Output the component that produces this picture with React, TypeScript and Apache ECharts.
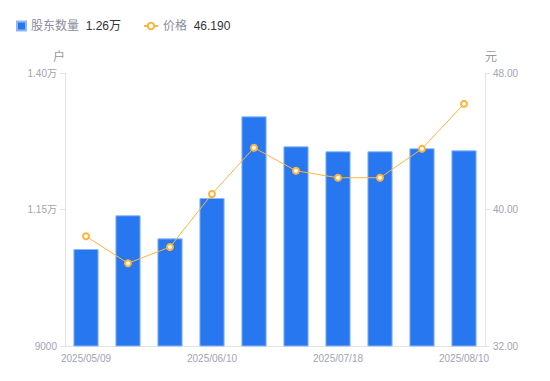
import React, { useEffect, useRef } from "react";
import * as echarts from "echarts";

const categories = [
  "2025/05/09", "2025/05/20", "2025/05/30", "2025/06/10", "2025/06/20",
  "2025/06/30", "2025/07/18", "2025/07/25", "2025/07/31", "2025/08/10",
];
const holders = [10777, 11394, 10972, 11711, 13207, 12657, 12566, 12566, 12621, 12584];
const prices = [38.43, 36.85, 37.8, 40.91, 43.62, 42.27, 41.86, 41.86, 43.56, 46.19];
const leftTicks = { min: 9000, max: 14000, interval: 2500 };
const rightTicks = { min: 32, max: 48, interval: 8 };

const FONT = '"Liberation Sans", "Noto Sans CJK SC", sans-serif';
const GRAY = "#a3a3b3";
const AXIS = "#e3e3e8";

export default function App() {
  const ref = useRef<HTMLDivElement>(null);
  useEffect(() => {
    if (!ref.current) return;
    const chart = echarts.init(ref.current, undefined, { renderer: "svg" });
    const lastHolder = (holders[holders.length - 1] / 10000).toFixed(2) + "万";
    const lastPrice = prices[prices.length - 1].toFixed(3);
    const legendText = {
      fontFamily: FONT,
      rich: {
        n: { color: "#8c8c9c", fontSize: 12, fontFamily: FONT },
        v: { color: "#333", fontSize: 12, fontFamily: FONT },
      },
    };
    chart.setOption({
      animation: false,
      textStyle: { fontFamily: FONT },
      legend: [
        {
          left: 16,
          top: 20,
          padding: 0,
          itemWidth: 9,
          itemHeight: 9,
          data: [{ name: "股东数量", icon: "rect" }],
          formatter: (name: string) => `{n|${name}}  {v|${lastHolder}}`,
          textStyle: legendText,
        },
        {
          left: 143,
          top: 20,
          padding: 0,
          itemWidth: 14,
          itemHeight: 8,
          data: [{ name: "价格" }],
          formatter: (name: string) => `{n|${name}}  {v|${lastPrice}}`,
          textStyle: legendText,
        },
      ],
      grid: { left: 65, right: 65, top: 73, bottom: 35 },
      xAxis: {
        type: "category",
        data: categories,
        boundaryGap: true,
        axisLine: { lineStyle: { color: AXIS } },
        axisTick: { show: false },
        axisLabel: { interval: 2, color: GRAY, fontSize: 10, fontFamily: FONT, margin: 7 },
      },
      yAxis: [
        {
          type: "value",
          name: "户",
          nameLocation: "end",
          nameGap: 10,
          nameTextStyle: { color: "#999", fontSize: 12, align: "right", fontFamily: FONT },
          min: leftTicks.min,
          max: leftTicks.max,
          interval: leftTicks.interval,
          splitLine: { show: false },
          axisLine: { show: true, lineStyle: { color: AXIS } },
          axisTick: { show: true, length: 5, lineStyle: { color: AXIS } },
          axisLabel: {
            color: GRAY,
            fontSize: 10,
            fontFamily: FONT,
            formatter: (v: number) => (v >= 10000 ? (v / 10000).toFixed(2) + "万" : String(v)),
          },
        },
        {
          type: "value",
          name: "元",
          nameLocation: "end",
          nameGap: 10,
          nameTextStyle: { color: "#999", fontSize: 12, align: "left", fontFamily: FONT },
          min: rightTicks.min,
          max: rightTicks.max,
          interval: rightTicks.interval,
          splitLine: { show: false },
          axisLine: { show: true, lineStyle: { color: AXIS } },
          axisTick: { show: true, length: 5, lineStyle: { color: AXIS } },
          axisLabel: {
            color: GRAY,
            fontSize: 10,
            fontFamily: FONT,
            formatter: (v: number) => v.toFixed(2),
          },
        },
      ],
      series: [
        {
          name: "股东数量",
          type: "bar",
          yAxisIndex: 0,
          data: holders,
          barWidth: "60%",
          itemStyle: { color: "#2777F1", borderColor: "#8fb8f8", borderWidth: 1 },
        },
        {
          name: "价格",
          type: "line",
          yAxisIndex: 1,
          data: prices,
          symbol: "circle",
          symbolSize: 6,
          lineStyle: { color: "#FFB43A", width: 1 },
          itemStyle: { color: "#fff", borderColor: "#FFB43A", borderWidth: 2 },
        },
      ],
    });
    return () => chart.dispose();
  }, []);
  return (
    <div
      ref={ref}
      style={{ position: "fixed", left: 0, top: 0, width: 550, height: 381, background: "#fff" }}
    />
  );
}
